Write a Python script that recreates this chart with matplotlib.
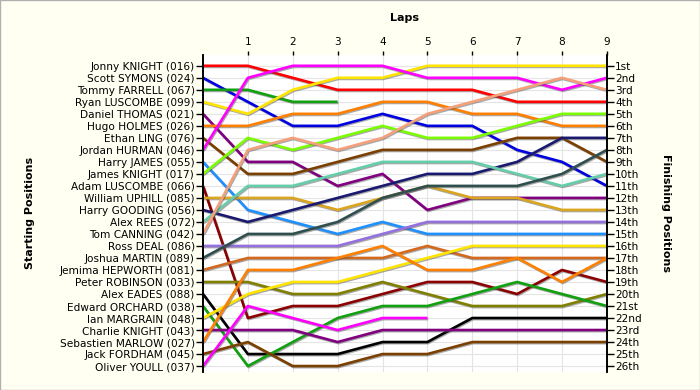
import numpy as np
import matplotlib
matplotlib.use("Agg")
import matplotlib.pyplot as plt
import matplotlib.patheffects as pe

# Drivers in starting order (grid position 1..26)
drivers = [
    "Jonny KNIGHT (016)", "Scott SYMONS (024)", "Tommy FARRELL (067)",
    "Ryan LUSCOMBE (099)", "Daniel THOMAS (021)", "Hugo HOLMES (026)",
    "Ethan LING (076)", "Jordan HURMAN (046)", "Harry JAMES (055)",
    "James KNIGHT (017)", "Adam LUSCOMBE (066)", "William UPHILL (085)",
    "Harry GOODING (056)", "Alex REES (072)", "Tom CANNING (042)",
    "Ross DEAL (086)", "Joshua MARTIN (089)", "Jemima HEPWORTH (081)",
    "Peter ROBINSON (033)", "Alex EADES (088)", "Edward ORCHARD (038)",
    "Ian MARGRAIN (048)", "Charlie KNIGHT (043)", "Sebastien MARLOW (027)",
    "Jack FORDHAM (045)", "Oliver YOULL (037)",
]

laps = list(range(0, 10))
lap_labels = [str(i) for i in range(1, 10)]

finish_labels = ["1st", "2nd", "3rd"] + [f"{i}th" for i in range(4, 21)] + \
    ["21st", "22nd", "23rd", "24th", "25th", "26th"]

# position at each lap (lap 0 = grid), None = retired
positions = [
    [1, 1, 2, 3, 3, 3, 3, 4, 4, 4],
    [2, 4, 6, 6, 5, 6, 6, 8, 9, 11],
    [3, 3, 4, 4, None, None, None, None, None, None],
    [4, 5, 3, 2, 2, 1, 1, 1, 1, 1],
    [5, 9, 9, 11, 10, 13, 12, 12, 12, 12],
    [6, 6, 5, 5, 4, 4, 5, 5, 6, 6],
    [7, 10, 10, 9, 8, 8, 8, 7, 7, 9],
    [8, 2, 1, 1, 1, 2, 2, 2, 3, 2],
    [9, 13, 14, 15, 14, 15, 15, 15, 15, 15],
    [10, 7, 8, 7, 6, 7, 7, 6, 5, 5],
    [11, 22, 21, 21, 20, 19, 19, 20, 18, 19],
    [12, 12, 12, 13, 12, 11, 12, 12, 13, 13],
    [13, 14, 13, 12, 11, 10, 10, 9, 7, 7],
    [14, 11, 11, 10, 9, 9, 9, 10, 11, 10],
    [15, 8, 7, 8, 7, 5, 4, 3, 2, 3],
    [16, 16, 16, 16, 15, 14, 14, 14, 14, 14],
    [17, 15, 15, 14, 12, 11, 11, 11, 10, 8],
    [18, 17, 17, 17, 17, 16, 17, 17, 17, 17],
    [19, 19, 20, 20, 19, 20, 21, 21, 21, 20],
    [20, 25, 25, 25, 24, 24, 22, 22, 22, 22],
    [21, 26, 24, 22, 21, 21, 20, 19, 20, 21],
    [22, 20, 19, 19, 18, 17, 16, 16, 16, 16],
    [23, 23, 23, 24, 23, 23, 23, 23, 23, 23],
    [24, 18, 18, 17, 16, 18, 18, 17, 19, 17],
    [25, 24, 26, 26, 25, 25, 24, 24, 24, 24],
    [26, 21, 22, 23, 22, 22, None, None, None, None],
]

colors = [
    "#FF0000", "#0000E0", "#10A010", "#FFE400", "#800080", "#FF8000",
    "#7B3F00", "#FF00FF", "#1E90FF", "#7CFC00", "#8B0000", "#DAA520",
    "#191970", "#66CDAA", "#F4A07A", "#9370DB", "#2F4F4F", "#D2691E",
    "#808000", "#000000", "#10A010", "#FFE400", "#800080", "#FF8000",
    "#7B3F00", "#FF00FF",
]

fig = plt.figure(figsize=(7, 3.9), dpi=100, facecolor="#FFFFF2")
ax = fig.add_axes([0.29, 0.046, 0.577, 0.813])
ax.set_facecolor("white")

for pos, c in zip(positions, colors):
    y = np.array([np.nan if p is None else p for p in pos], dtype=float)
    ax.plot(laps, y, color=c, lw=1.9, solid_capstyle="butt",
            path_effects=[pe.SimpleLineShadow(offset=(0.6, -0.8), shadow_color="#555555", alpha=0.5),
                          pe.Normal()])

ax.set_xlim(0, 9)
ax.set_ylim(26.5, 0.1)

ax.set_yticks(range(1, 27))
ax.set_yticklabels(drivers, fontsize=7.6)
ax.tick_params(axis="y", direction="out", length=5, width=1, pad=1)

ax.xaxis.tick_top()
ax.set_xticks(range(1, 10))
ax.set_xticklabels(lap_labels, fontsize=7.6)
ax.tick_params(axis="x", direction="out", length=3, width=1, pad=3, colors="black")

ax2 = ax.twinx()
ax2.set_ylim(26.5, 0.1)
ax2.set_yticks(range(1, 27))
ax2.set_yticklabels(finish_labels, fontsize=7.6)
ax2.tick_params(axis="y", direction="out", length=5, width=1, pad=1)

ax.grid(True, color="#E4E4E4", lw=0.8)
ax.set_axisbelow(True)
for a in (ax, ax2):
    a.spines["top"].set_visible(False)
    a.spines["bottom"].set_visible(False)
    a.spines["left"].set_linewidth(1.2)
    a.spines["right"].set_linewidth(1.2)

fig.text(0.578, 0.954, "Laps", ha="center", va="center", fontsize=8, fontweight="bold")
fig.text(0.043, 0.455, "Starting Positions", ha="center", va="center",
         rotation=90, fontsize=8, fontweight="bold")
fig.text(0.951, 0.455, "Finishing Positions", ha="center", va="center",
         rotation=270, fontsize=8, fontweight="bold")

fig.patches.append(plt.Rectangle((0, 0), 1, 1, transform=fig.transFigure,
                                 fill=False, edgecolor="#B0B0B0", lw=1))

fig.savefig("out.png", dpi=100, facecolor=fig.get_facecolor())
